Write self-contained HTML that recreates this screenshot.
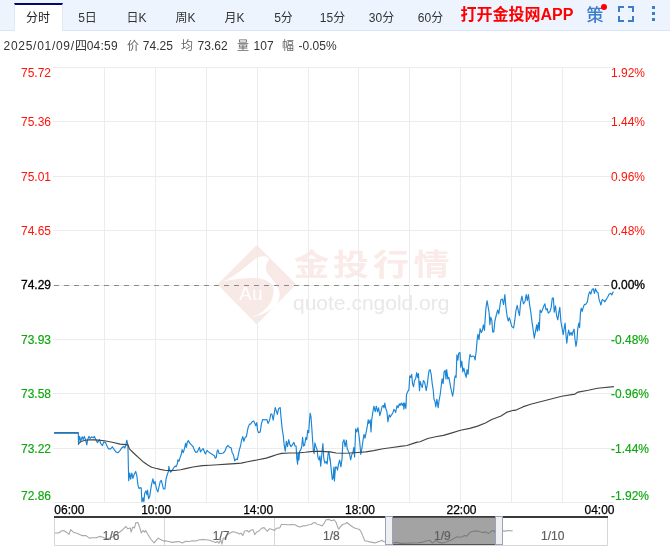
<!DOCTYPE html>
<html lang="zh-CN">
<head>
<meta charset="utf-8">
<title>金投行情</title>
<style>
html,body{margin:0;padding:0;}
body{width:670px;height:546px;background:#fff;position:relative;overflow:hidden;font-family:"Liberation Sans","Noto Sans CJK SC",sans-serif;}
.bar{position:absolute;left:0;top:0;width:670px;height:30px;background:#eef4fe;border-bottom:1px solid #dbe3f4;box-sizing:content-box;}
.tab{position:absolute;top:3px;width:49px;height:27px;line-height:30px;text-align:center;font-size:12px;color:#333;box-sizing:border-box;}
.tab.on{background:#fff;border-top:2px solid #00087c;border-left:1px solid #e1e8f6;border-right:1px solid #e1e8f6;height:28px;line-height:27px;color:#222;padding-right:1px;}
.app{position:absolute;left:460.5px;top:0;height:30px;line-height:30px;font-size:16px;font-weight:bold;color:#ff0000;white-space:nowrap;}
.ce{position:absolute;left:586.5px;top:1px;height:30px;line-height:30px;font-size:17px;font-weight:500;color:#3d7bcb;}
.dot{position:absolute;left:601px;top:4px;width:6px;height:6px;border-radius:50%;background:#ff0000;}
.info{position:absolute;left:0;top:36px;height:20px;line-height:20px;font-size:12px;color:#333;white-space:nowrap;}
.info span{position:absolute;top:0;white-space:nowrap;}
.info .l{color:#666;}
.chart{position:absolute;left:0;top:0;}
.ax{font-family:"Liberation Sans",sans-serif;font-size:12px;}
.tm{stroke:#000;stroke-width:0.25px;}
.k{stroke:#000;stroke-width:0.3px;}
.g{stroke:#0ca80c;stroke-width:0.15px;}
.ml{stroke:#606060;stroke-width:0.2px;}
.ico{position:absolute;left:0;top:0;}
</style>
</head>
<body>
<div class="bar">
<div class="tab on" style="left:14px">分时</div><div class="tab" style="left:63px">5日</div><div class="tab" style="left:112px">日K</div><div class="tab" style="left:161px">周K</div><div class="tab" style="left:210px">月K</div><div class="tab" style="left:259px">5分</div><div class="tab" style="left:308px">15分</div><div class="tab" style="left:357px">30分</div><div class="tab" style="left:406px">60分</div>
<div class="app">打开金投网APP</div>
<div class="ce">策</div>
<div class="dot"></div>
<svg class="ico" width="670" height="30" viewBox="0 0 670 30">
<path d="M619,12 V7 H624 M628,7 H633 V12 M633,16 V21 H628 M624,21 H619 V16" stroke="#3d7bcb" stroke-width="2" fill="none"/>
<rect x="652" y="6" width="3" height="3" fill="#3d7bcb"/><rect x="652" y="12" width="3" height="3" fill="#3d7bcb"/><rect x="652" y="18" width="3" height="3" fill="#3d7bcb"/>
</svg>
</div>
<div class="info">
<span style="left:3.5px;letter-spacing:0.72px">2025/01/09/</span><span style="left:75px">四</span><span style="left:86.7px;letter-spacing:0.25px">04:59</span>
<span class="l" style="left:127px">价</span><span style="left:142.8px">74.25</span>
<span class="l" style="left:181px">均</span><span style="left:197.6px">73.62</span>
<span class="l" style="left:237px">量</span><span style="left:253.6px">107</span>
<span class="l" style="left:282px">幅</span><span style="left:298.6px">-0.05%</span>
</div>
<svg class="chart" width="670" height="546" viewBox="0 0 670 546">
<g class="wm">
<path d="M256.8,246 L295,284.4 L256.6,323.4 L218.5,284.5 Z" fill="#f9e9e6" stroke="#f9e9e6" stroke-width="1.5" stroke-linejoin="round"/>
<path d="M223.2,281.5 C233,277 244,268.5 252.5,261 C257,257.2 261,256 264.5,256.2 C266.5,256.5 268.3,257.8 269.3,259.4 C265.5,263 264.8,268 267,272.5 C270,277 276,282 279,290 C281,298 278,305 270,310 C264,314 257,316.5 251,317.3 C258,315 265,311 269,305 C273,299 274.5,292 273,287 C271,282 266,279.5 258,278.2 C247,277.5 235,279 223.2,281.5 Z" fill="#fff"/>
<text x="239.3" y="299.8" font-family="'Liberation Sans',sans-serif" font-size="18.5" letter-spacing="0.6" fill="#fff">Au</text>
<g font-family="'Liberation Sans','Noto Sans CJK SC',sans-serif" font-weight="bold" font-size="30" fill="#faebe8"><text x="293.5" y="274.5" textLength="36" lengthAdjust="spacingAndGlyphs">金</text><text x="333" y="274.5" textLength="36" lengthAdjust="spacingAndGlyphs">投</text><text x="373" y="274.5" textLength="36" lengthAdjust="spacingAndGlyphs">行</text><text x="413.5" y="274.5" textLength="36" lengthAdjust="spacingAndGlyphs">情</text></g>
<text x="293" y="309.8" font-family="'Liberation Sans',sans-serif" font-size="21" fill="#e8e8e8">quote.cngold.org</text>
</g>
<path d="M53,67.5 H614 M53,121.5 H614 M53,176.5 H614 M53,230.5 H614 M53,285.5 H614 M53,339.5 H614 M53,393.5 H614 M53,448.5 H614 M53,502.5 H614 M104.5,67.5 V502.5 M155.5,67.5 V502.5 M206.5,67.5 V502.5 M257.5,67.5 V502.5 M308.5,67.5 V502.5 M358.5,67.5 V502.5 M409.5,67.5 V502.5 M460.5,67.5 V502.5 M511.5,67.5 V502.5 M562.5,67.5 V502.5" stroke="#ececec" stroke-width="1" fill="none" shape-rendering="crispEdges"/>
<path d="M54,285.5 H611" stroke="#8a8a8a" stroke-width="1" stroke-dasharray="5 5" fill="none" shape-rendering="crispEdges"/>
<path d="M54.2,432.9 L78.3,432.9 L78.5,444.6 L79.6,436.4 L80.7,441 L82.2,436.8 L83.2,439.5 L84.3,436.4 L85.5,439.5 L86.8,444.9 L87.7,439.5 L88.9,436.4 L90.2,438.4 L91.7,436.8 L93.3,437.9 L94.4,436.4 L96,439.9 L97.5,442.6 L99.5,439.5 L100.6,443.4 L102.5,445.7 L103.7,441.8 L105.6,442.6 L106.9,445.7 L108.4,448.8 L110.7,448.8 L112.3,446.8 L114.2,449.6 L116.2,452.2 L118.2,452.7 L120.1,450.4 L122,447.7 L123.5,446.5 L124.8,448 L125.9,444.9 L126.8,440.2 L127.9,444.9 L128.7,480.7 L129.8,473 L130.7,479.2 L131.8,473 L132.9,478.4 L134.1,474.5 L135.7,471.4 L136.9,476.1 L138,485.4 L139.1,488.5 L140,487.8 L141.2,487.8 L141.9,501.8 L143.1,497.9 L143.9,501.8 L144.7,493.2 L145.9,490.9 L147,494.8 L147.5,490.1 L148.6,498.7 L149.7,496.3 L150.6,490.1 L151.7,483.9 L152.9,478.9 L154,483.9 L155.1,481.5 L156.4,488.5 L157.9,492 L159,487 L160.2,481.5 L161.3,480.4 L162.6,485.4 L163.4,489 L164.9,489 L166,479.2 L167.3,474.5 L168.5,471.4 L168.8,466.4 L169.6,469.8 L170.7,472.2 L171.9,470.6 L173.5,468.3 L175,466 L176.1,466.7 L177.4,463.6 L177.9,459.7 L178.9,461.3 L180.2,457.4 L181.3,454.3 L182.1,449.6 L183.3,452.7 L184.4,448.8 L185.6,443.4 L186.4,447.3 L187.2,442.6 L188.3,440.6 L189.8,443.1 L191.4,444.9 L193,446.5 L194.5,450.4 L195.8,452.4 L197.3,451.9 L198.4,449.6 L199.5,447.3 L200.4,451.9 L201.5,450.4 L203.1,448.5 L204.2,451.2 L205.4,454 L207,450.4 L208.5,451.9 L210.1,453 L211.7,454 L213.2,455 L214.5,455.8 L215.2,458.2 L216.3,457.4 L217.1,451.2 L217.9,449.9 L219.1,453.5 L221,453.5 L223.3,453 L224.9,451.2 L226.4,447.3 L228,445.4 L229.6,447.3 L231.1,447.7 L232.2,452.7 L233.5,455 L234.7,460.8 L236.3,458.9 L237.4,459.7 L238.4,454.3 L239.4,449.6 L240.5,446 L241.5,440.5 L242.8,436.6 L243.9,441.3 L245.1,437.4 L246.4,436.6 L247.5,430.4 L248.2,427.3 L249.5,424.1 L250.6,424.1 L252.1,421.8 L253.7,421 L254.9,423.4 L255.7,425.7 L256.8,422.6 L257.6,430.4 L258.7,432.7 L260.2,431.9 L261.5,423.4 L262.7,419.5 L264.6,419.9 L266.9,419.5 L268,423.4 L269.6,420.2 L270.8,414 L271.9,414 L273.2,420.2 L274.3,413.2 L275.2,407.5 L276.3,410.9 L277.4,414.3 L278.6,408.6 L280.2,407.5 L281,417.1 L282,427.3 L283.3,435.8 L284.2,445.2 L285.2,451.1 L286.4,441.3 L287.5,446.7 L288.7,439.7 L289.8,444.4 L291.1,446.7 L292.6,444.4 L293.9,442.4 L295,446 L296.1,446 L296.8,458.4 L297.6,464.2 L298.1,453 L298.9,460 L299.6,451.4 L300.7,449.8 L301.7,446.7 L302.6,437.4 L303.5,446 L304.6,445.2 L305.9,437.4 L306.7,439.7 L307.7,430.4 L308.7,432.7 L309.5,420.2 L310.2,413.2 L311,417.1 L311.8,428 L312.6,440.5 L313.3,449.8 L314.1,453.7 L314.9,442.8 L316,446.7 L317.1,449.8 L318,457.6 L319.1,460 L319.9,456.1 L320.7,466.2 L321.8,454.5 L322.9,443.6 L323.8,458.4 L324.9,463.1 L326.1,461.5 L327.2,463.9 L328,454.5 L328.9,451.4 L330,460.7 L330,457.6 L330.8,465.4 L331.6,473.2 L332.3,479.4 L333.1,477.9 L333.9,467 L334.4,481 L335.5,467 L336.5,467 L337.5,470.1 L338.6,463.9 L339.7,460 L340.9,467 L342,459.2 L342.8,442.8 L344,439.7 L345.1,446.7 L346.4,440.2 L347.1,448.3 L348.4,451.4 L349.5,453.7 L350.7,460 L351.8,454.5 L352.9,453 L353.7,447.5 L354.6,456.9 L355.7,428.8 L356.8,431.9 L358,427.7 L358.8,434.3 L359.6,440.5 L360.8,454.5 L361.9,448.3 L363,440.5 L364,434.3 L365,438.2 L366.1,432.7 L367.4,425.7 L368.2,419.9 L368.9,423.4 L370.2,419.9 L371,431.9 L371.7,420.2 L372.8,412.5 L373.9,406.2 L375.2,411.7 L376.3,406.2 L377.5,411.7 L378.6,407.8 L379.8,415.6 L380.9,411.7 L382.2,406.2 L383.3,405.5 L384,407.8 L384.8,403.1 L385.8,408.6 L386.9,411.7 L387.9,421.8 L389.2,414.8 L390.3,417.1 L391.5,414.8 L392.8,413.2 L393.9,409.3 L395,410.9 L395.7,412.5 L397,405.5 L398.1,407.8 L399.3,403.9 L400,405.4 L401.2,403.1 L402.3,405.4 L403.4,403.1 L403.9,409.3 L404.7,403.1 L405.9,408.5 L406.5,394.5 L407.8,391.4 L408.9,389.8 L409.8,375.8 L410.9,377.4 L411.7,374.3 L412.5,383.6 L413.6,386.7 L414.5,380.5 L415.6,378.9 L416.7,372.7 L417.6,377.4 L418.4,373.5 L419.5,390.6 L420.2,381.3 L421.3,385.2 L422.3,387.5 L423.4,380.5 L424.6,382.1 L425.4,386 L426.2,390.6 L427.3,384.4 L428.3,375.8 L429.1,370.4 L430.1,369.6 L431.2,374.3 L432.2,383.6 L433.2,389.8 L434,399.2 L435,401.5 L435.8,407 L436.9,399.2 L438.2,407.8 L438.9,401.5 L440.2,394.5 L441.3,385.2 L442.1,378.9 L443.1,383.6 L444.1,371.9 L445.2,370.4 L446,378.9 L446.7,369.6 L447.8,378.9 L448.8,377.4 L449.8,382.1 L450.9,388.3 L451.9,393 L452.6,396.1 L453.7,389.8 L454.5,378.9 L455.3,375.8 L456.1,377.4 L456.9,354.8 L457.9,360.2 L458.7,353.2 L460,352.5 L460.7,367.3 L461.8,361 L462.8,371.9 L463.9,368 L465,373.5 L466.2,377.4 L467,369.6 L468.1,374.3 L468.8,364.9 L469.2,360 L470,354.4 L471.2,356.8 L472.8,356 L474.3,356.8 L475.1,360 L476.2,351.3 L477.1,340.4 L477.9,334.2 L479,339.6 L480.1,328.7 L481.4,332.6 L482.4,330.3 L483.4,324.8 L484.5,330.3 L485.2,318.6 L486,307.7 L487.1,300.7 L488.4,308.5 L489.1,312.4 L489.9,324.8 L490.7,317.1 L491.8,320.2 L492.7,331.9 L493.8,331.9 L494.9,321 L496.2,315.5 L497.7,310 L498.8,313.9 L500,305.4 L500.8,299.9 L502.4,299.1 L503.6,304.6 L504.9,294.5 L505.8,306.2 L507.1,316.3 L508.3,321 L509.4,317.8 L510.5,321.7 L511.7,326.4 L513.6,328 L514.8,320.2 L515.9,310.8 L517.2,305.4 L518.3,310.8 L519.5,315.5 L520.6,302.3 L521.9,296 L523.4,303.8 L525,301.5 L526.2,294.5 L527.3,300.7 L528.4,294.5 L529.6,304.6 L530.7,311.6 L532,321.7 L533.1,329.5 L534.3,338.1 L535.4,331.9 L536.7,324.8 L537.4,331.1 L538.5,322.5 L539.3,330.3 L540.1,310 L541.3,312.4 L542.4,310 L543.7,306.2 L544.9,303.8 L546,310 L547.1,308.5 L548.3,313.2 L549.9,311.6 L551.2,307.4 L552.3,298 L553.4,298 L554.2,312.1 L555.5,305.8 L556.5,315.2 L557.8,319.8 L558.9,312.1 L559.8,307.4 L560.9,321.4 L562,327.6 L563.2,334.6 L564.3,327.6 L565.1,323 L566,335.4 L566.8,343.2 L567.9,333.9 L568.7,330 L569.8,335.4 L571,332.3 L572.1,335.4 L573.1,331.5 L574.1,329.2 L574.9,338.5 L576,346.3 L576.9,340.9 L577.7,329.2 L578.8,323 L579.6,327.6 L580.4,313.6 L581.2,308.2 L582.2,311.3 L583.5,306.6 L584.6,304.3 L585.8,304.3 L587.4,301.9 L588.5,294.9 L589.7,291.8 L590.8,294.1 L592.1,289.5 L593.3,288.7 L594.4,293.4 L595.5,288.7 L596.7,291.8 L598,292.6 L599.1,299.6 L600.2,302.7 L600.9,305 L602.2,299.6 L603.7,300.4 L604.8,301.9 L606.1,299.6 L607.6,297.3 L609.2,294.1 L610.7,293.4 L611.8,294.9 L613.4,291.5" stroke="#1985d6" stroke-width="1.15" fill="none" stroke-linejoin="round"/>
<path d="M78.8,443.4 L81.2,441.5 L85,440.2 L88.9,439.9 L95.2,439.9 L104.5,440.7 L112.3,442.3 L120.1,444.1 L127.9,444.9 L129.4,448.8 L134.1,453.5 L143.5,462.1 L148.1,465.2 L151.7,467.2 L155.6,468.3 L160.2,469.4 L164.9,470.3 L168.8,470.6 L174.3,470.5 L180.5,469.8 L186.7,468.4 L193,467 L202.3,465.6 L210.1,465.2 L217.9,464.7 L227.2,464.1 L235,463.6 L235,463.6 L241.2,463.1 L247.5,461.8 L256.8,460 L266.2,458.1 L272.4,456.1 L277.1,454.5 L281.7,453.4 L289.5,453 L297.3,453 L305.1,452.3 L312.9,451.4 L322.2,451.4 L328.5,451.9 L330,451.9 L336.2,453 L342.5,453.3 L350.2,453 L358,452.5 L365.8,451.9 L373.6,450.6 L383,448.8 L392.3,447.5 L400.1,446.4 L407.1,445.5 L412.6,443.6 L417.2,442.1 L420,441.7 L427.8,438.5 L435.6,436.7 L443.4,435.4 L451.2,433.1 L460.5,430.3 L469.8,428.4 L477.6,426.1 L485.4,423 L491.7,419.5 L501,416 L507.2,412.1 L513.5,410.2 L515,410.4 L522.8,406.9 L530.6,404.2 L546.2,400.2 L561.7,396.3 L575,394.1 L578.1,392.1 L588.2,390.2 L597.6,388.2 L613.9,386.6" stroke="#444" stroke-width="1.15" fill="none" stroke-linejoin="round"/>
<path d="M54,432.9 H78.6" stroke="#1f6ba6" stroke-width="1.4" fill="none"/>
<text x="51" y="77.0" text-anchor="end" fill="#ff1208" class="ax r">75.72</text>
<text x="51" y="126.0" text-anchor="end" fill="#ff1208" class="ax r">75.36</text>
<text x="51" y="181.0" text-anchor="end" fill="#ff1208" class="ax r">75.01</text>
<text x="51" y="235.0" text-anchor="end" fill="#ff1208" class="ax r">74.65</text>
<text x="51" y="289.0" text-anchor="end" fill="#000" class="ax k">74.29</text>
<text x="51" y="344.0" text-anchor="end" fill="#0ca80c" class="ax g">73.93</text>
<text x="51" y="398.0" text-anchor="end" fill="#0ca80c" class="ax g">73.58</text>
<text x="51" y="453.0" text-anchor="end" fill="#0ca80c" class="ax g">73.22</text>
<text x="51" y="500.0" text-anchor="end" fill="#0ca80c" class="ax g">72.86</text>
<text x="611" y="77.0" fill="#ff1208" class="ax r">1.92%</text>
<text x="611" y="126.0" fill="#ff1208" class="ax r">1.44%</text>
<text x="611" y="181.0" fill="#ff1208" class="ax r">0.96%</text>
<text x="611" y="235.0" fill="#ff1208" class="ax r">0.48%</text>
<text x="611" y="289.0" fill="#000" class="ax k">0.00%</text>
<text x="611" y="344.0" fill="#0ca80c" class="ax g">-0.48%</text>
<text x="611" y="398.0" fill="#0ca80c" class="ax g">-0.96%</text>
<text x="611" y="453.0" fill="#0ca80c" class="ax g">-1.44%</text>
<text x="611" y="500.0" fill="#0ca80c" class="ax g">-1.92%</text>
<text x="54.3" y="514" text-anchor="start" fill="#000" class="ax tm">06:00</text>
<text x="156.2" y="514" text-anchor="middle" fill="#000" class="ax tm">10:00</text>
<text x="258.2" y="514" text-anchor="middle" fill="#000" class="ax tm">14:00</text>
<text x="360" y="514" text-anchor="middle" fill="#000" class="ax tm">18:00</text>
<text x="461.5" y="514" text-anchor="middle" fill="#000" class="ax tm">22:00</text>
<text x="614.5" y="514" text-anchor="end" fill="#000" class="ax tm">04:00</text>
<rect x="54" y="516" width="554" height="2" fill="#3a3a3a"/>
<path d="M54.5,518 V545.5 H607.5 V518" fill="none" stroke="#d6d6d6" stroke-width="1"/>
<path d="M164.5,518 V545 M274.5,518 V545" stroke="#d6d6d6" stroke-width="1" fill="none"/>
<path d="M54.6,533 L58.8,533 L61.4,531 L63.6,530.5 L66.5,532.2 L69,534.4 L70.7,529.6 L73.3,532.2 L77.5,533.5 L81.8,535.6 L86,535.6 L89.4,538.1 L92.8,537.8 L96.2,537.8 L99.6,536.4 L103,537.3 L106.4,539 L109.9,538.1 L114.1,536.1 L118.4,533 L121.8,530.5 L123.5,528.8 L126,526.5 L127.7,528.8 L130.3,527.9 L131.1,532.2 L132.8,527.1 L134.5,527.9 L135.7,522.8 L137.9,522.5 L139.6,527.1 L141.3,533 L143,530.5 L144.7,532.2 L145.6,530.5 L148.1,534.7 L150.7,539 L154.1,542.9 L156.6,539.8 L158.3,538.1 L160.9,539.8 L163.5,540.7 L164.6,541.5 L165.4,540.7 L168.8,541.5 L172.2,542.4 L175.6,541.9 L179,541.5 L182.4,542.9 L185.8,541.2 L189.2,541.5 L192.6,540.7 L196,541 L199.4,539.8 L202.8,539.5 L206.2,539.8 L209.6,540.2 L213,541.5 L215.6,542.4 L217.3,541.5 L219,543.2 L220.7,539.8 L221.9,544.1 L223.3,538.1 L225.8,538.1 L227.5,534.7 L230.1,533 L232.6,531.7 L235.2,532.2 L237.7,533 L239.4,533.9 L241.1,533 L242.8,535.6 L244.5,531.3 L247.1,530.5 L248.8,532.2 L250.5,530.5 L253,529.6 L254.7,534.7 L256.4,532.2 L259,531 L261.5,528.3 L264.1,527.6 L265.8,529.6 L267.5,531.3 L269.2,528.8 L271.7,529.3 L273.5,530 L274.6,530.5 L276.3,528.3 L279.7,527.9 L281.4,524.5 L284.8,524.5 L288.2,524.8 L291.6,524.5 L295,524.8 L297.5,526.2 L300.1,527.1 L302.6,525.9 L306,525.7 L308.6,524.8 L311.1,524.5 L313.7,522.8 L315.4,522.5 L317.1,524.5 L319.6,524.8 L322.2,525.9 L323.9,523.7 L326.1,519.7 L329,519.4 L331.6,520.8 L334.1,519.7 L336.3,522.8 L337.5,526.5 L338.7,529.3 L340.1,527.1 L342.6,524.5 L345.2,523.7 L346.9,522.5 L349.4,524.5 L352,526.5 L354.5,527.9 L357.1,528.8 L359.6,529.6 L361.3,532.2 L363,536.4 L364.7,540.7 L367.3,541.2 L369.8,541.9 L372.4,542.4 L374.9,542.9 L377.5,541.9 L380,541.2 L381.7,540.3 L383.5,541.5 L385.2,541.9" stroke="#a8a8a8" stroke-width="1.1" fill="none" stroke-linejoin="round"/>
<path d="M502.9,530.9 L505.4,531.1 L507.9,530.5 L510.6,530.9 L512.7,530.7" stroke="#a8a8a8" stroke-width="1.1" fill="none" stroke-linejoin="round"/>
<rect x="392.5" y="517.5" width="103" height="27" fill="#a3a3a3" stroke="#555" stroke-width="1"/>
<path d="M392.5,543 L396.7,542.4 L400.9,543.4 L411.3,543 L417.6,542.8 L421.8,542.4 L424.9,541.3 L430.1,540.3 L432.2,543 L435.4,541.3 L436.4,539.9 L438.5,542.4 L442.7,543 L446.9,541.8 L451,540.3 L454.2,538.2 L457.3,536.7 L461.5,537.2 L464.6,535.5 L466.7,536.1 L469.8,532.6 L473,531.3 L476.1,530.9 L479.2,531.5 L482.4,532.6 L485.5,531.9 L488.7,533.4 L491.8,530.9 L493.9,530.5 L495.3,532.6" stroke="#7d7d7d" stroke-width="1.1" fill="none" stroke-linejoin="round"/>
<rect x="385.5" y="516.5" width="7" height="28" fill="#efeff1" stroke="#9aa3bd" stroke-width="1"/>
<rect x="495.5" y="516.5" width="7" height="28" fill="#efeff1" stroke="#9aa3bd" stroke-width="1"/>
<text x="111.2" y="540" text-anchor="middle" fill="#606060" class="ax ml">1/6</text>
<text x="221" y="540" text-anchor="middle" fill="#606060" class="ax ml">1/7</text>
<text x="331.4" y="540" text-anchor="middle" fill="#606060" class="ax ml">1/8</text>
<text x="442.3" y="540" text-anchor="middle" fill="#606060" class="ax ml">1/9</text>
<text x="552.8" y="540" text-anchor="middle" fill="#606060" class="ax ml">1/10</text>
</svg>
</body>
</html>
